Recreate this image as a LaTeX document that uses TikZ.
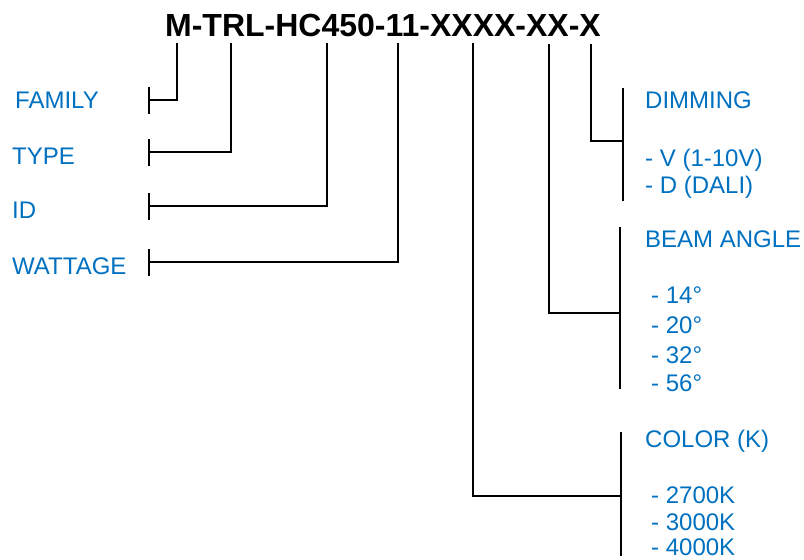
\documentclass[tikz,border=0pt]{standalone}
\usepackage{fontspec}
\setmainfont{Liberation Sans}
\usetikzlibrary{arrows.meta}
\definecolor{codeblue}{RGB}{0,112,192}
\begin{document}
\begin{tikzpicture}[]
      \coordinate (origo) at (0pt,0pt);
      \useasboundingbox (origo) rectangle ([xshift=804pt,yshift=-560pt] origo);

      \tikzstyle{partno} = [
        draw=none,
        anchor=base,
        inner sep=0pt,
        font=\fontsize{32}{38}\selectfont\bfseries
      ]
      \tikzstyle{fieldlabel} = [
        draw=none,
        anchor=base west,
        inner sep=0pt,
        text=codeblue,
        font=\fontsize{24}{28}\selectfont
      ]
      \tikzstyle{link} = [line width=2.4pt, draw=black]
      \tikzstyle{tick} = [link, -{Bar[width=27pt,line width=2.4pt]}]

      % part number
      \node[partno] (partNo) at ([xshift=383pt,yshift=-36pt] origo) {M-TRL-HC450-11-XXXX-XX-X};

      % family
      \node[fieldlabel] (famLabel) at ([xshift=15pt,yshift=-108pt] origo) {FAMILY};
      \coordinate (famTop) at ([xshift=177pt,yshift=-43pt] origo);
      \coordinate (famEnd) at ([xshift=148pt,yshift=-100pt] origo);

      % type
      \node[fieldlabel] (typeLabel) at ([xshift=12pt,yshift=-164pt] origo) {TYPE};
      \coordinate (typeTop) at ([xshift=231pt,yshift=-43pt] origo);
      \coordinate (typeEnd) at ([xshift=148pt,yshift=-152pt] origo);

      % id
      \node[fieldlabel] (idLabel) at ([xshift=12pt,yshift=-218pt] origo) {ID};
      \coordinate (idTop) at ([xshift=327pt,yshift=-43pt] origo);
      \coordinate (idEnd) at ([xshift=148pt,yshift=-206pt] origo);

      % wattage
      \node[fieldlabel] (wattLabel) at ([xshift=12pt,yshift=-274pt] origo) {WATTAGE};
      \coordinate (wattTop) at ([xshift=398pt,yshift=-43pt] origo);
      \coordinate (wattEnd) at ([xshift=148pt,yshift=-262pt] origo);

      % dimming
      \node[fieldlabel] (dimLabel) at ([xshift=645pt,yshift=-108pt] origo) {DIMMING};
      \node[fieldlabel] (dimOpt1) at ([xshift=645pt,yshift=-166pt] origo) {- V (1-10V)};
      \node[fieldlabel] (dimOpt2) at ([xshift=645pt,yshift=-193pt] origo) {- D (DALI)};
      \coordinate (dimTop) at ([xshift=591pt,yshift=-44pt] origo);
      \coordinate (dimJoin) at ([xshift=623pt,yshift=-141pt] origo);
      \coordinate (dimBarTop) at ([xshift=623pt,yshift=-88pt] origo);
      \coordinate (dimBarBot) at ([xshift=623pt,yshift=-201pt] origo);

      % beam angle
      \node[fieldlabel] (beamLabel) at ([xshift=645pt,yshift=-247pt] origo) {BEAM ANGLE};
      \node[fieldlabel] (beamOpt1) at ([xshift=651pt,yshift=-303pt] origo) {- 14°};
      \node[fieldlabel] (beamOpt2) at ([xshift=651pt,yshift=-333pt] origo) {- 20°};
      \node[fieldlabel] (beamOpt3) at ([xshift=651pt,yshift=-363pt] origo) {- 32°};
      \node[fieldlabel] (beamOpt4) at ([xshift=651pt,yshift=-391pt] origo) {- 56°};
      \coordinate (beamTop) at ([xshift=549pt,yshift=-44pt] origo);
      \coordinate (beamJoin) at ([xshift=620pt,yshift=-313pt] origo);
      \coordinate (beamBarTop) at ([xshift=620pt,yshift=-227pt] origo);
      \coordinate (beamBarBot) at ([xshift=620pt,yshift=-389pt] origo);

      % color
      \node[fieldlabel] (colLabel) at ([xshift=645pt,yshift=-447pt] origo) {COLOR (K)};
      \node[fieldlabel] (colOpt1) at ([xshift=651pt,yshift=-503pt] origo) {- 2700K};
      \node[fieldlabel] (colOpt2) at ([xshift=651pt,yshift=-530pt] origo) {- 3000K};
      \node[fieldlabel] (colOpt3) at ([xshift=651pt,yshift=-555pt] origo) {- 4000K};
      \coordinate (colTop) at ([xshift=473pt,yshift=-43pt] origo);
      \coordinate (colJoin) at ([xshift=621pt,yshift=-496pt] origo);
      \coordinate (colBarTop) at ([xshift=621pt,yshift=-432pt] origo);
      \coordinate (colBarBot) at ([xshift=621pt,yshift=-556pt] origo);

      % left branches
      \draw[tick] (famTop) |- (famEnd);
      \draw[tick] (typeTop) |- (typeEnd);
      \draw[tick] (idTop) |- (idEnd);
      \draw[tick] (wattTop) |- (wattEnd);

      % right branches
      \draw[link] (dimTop) |- (dimJoin);
      \draw[link] (dimBarTop) -- (dimBarBot);
      \draw[link] (beamTop) |- (beamJoin);
      \draw[link] (beamBarTop) -- (beamBarBot);
      \draw[link] (colTop) |- (colJoin);
      \draw[link] (colBarTop) -- (colBarBot);
    \end{tikzpicture}
\end{document}
